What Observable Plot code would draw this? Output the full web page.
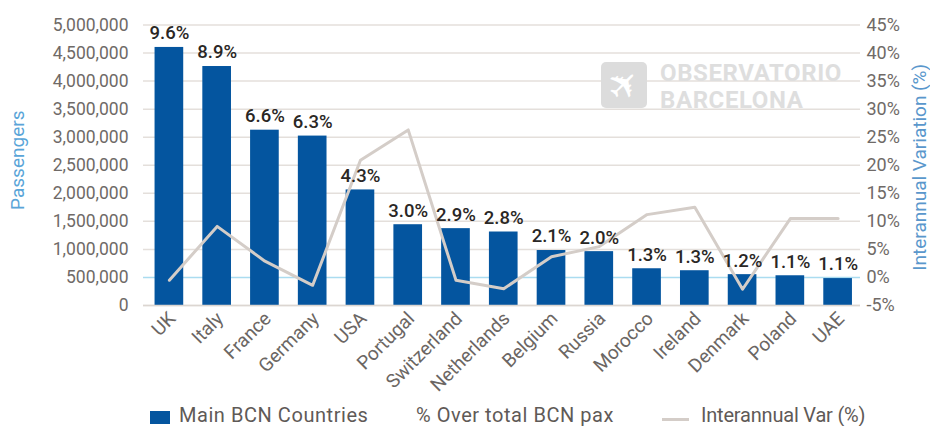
<!DOCTYPE html>
<html>
<head>
<meta charset="utf-8">
<script src="https://cdn.jsdelivr.net/npm/d3@7"></script>
<script src="https://cdn.jsdelivr.net/npm/@observablehq/plot@0.6"></script>
<style>
html,body{margin:0;padding:0;background:#fff;overflow:hidden}
#wrap{position:relative;width:930px;height:426px;font-family:Roboto,sans-serif;overflow:hidden}
#logo{position:absolute;left:601px;top:62px;width:46px;height:46px;border-radius:5px;background:#dcdcdc;color:#fff;font:38px/46px "DejaVu Sans";text-align:center}
#logo span{display:inline-block;transform:rotate(-45deg)}
#brand{position:absolute;left:660px;top:60px;color:#dedede;font:700 24px/27px Roboto,sans-serif;letter-spacing:0.6px}
.lg{position:absolute;top:405px;font-size:20px;line-height:21px;color:#5f5a57;white-space:nowrap}
.sw{position:absolute}
</style>
</head>
<body>
<div id="wrap">
  <div id="chart"></div>
  <div id="logo"><span>✈</span></div>
  <div id="brand">OBSERVATORIO<br>BARCELONA</div>
  <div class="sw" style="left:150px;top:411px;width:20px;height:13px;background:#04559f"></div>
  <div class="lg" style="left:179px;letter-spacing:.55px">Main BCN Countries</div>
  <div class="lg" style="left:416px;letter-spacing:.55px">% Over total BCN pax</div>
  <div class="sw" style="left:662px;top:418px;width:27px;height:3px;background:#d4cdc8"></div>
  <div class="lg" style="left:701px;letter-spacing:-.2px">Interannual Var (%)</div>
</div>
<script>
const countries = ["UK","Italy","France","Germany","USA","Portugal","Switzerland","Netherlands","Belgium","Russia","Morocco","Ireland","Denmark","Poland","UAE"];
const passengers = [4600000,4260000,3125000,3020000,2060000,1440000,1370000,1310000,980000,960000,655000,620000,550000,530000,480000];
const variation = [-0.5,9.1,2.9,-1.4,20.9,26.3,-0.5,-2,3.7,5.5,11.2,12.5,-2.1,10.5,10.5];
const shares = ["9.6%","8.9%","6.6%","6.3%","4.3%","3.0%","2.9%","2.8%","2.1%","2.0%","1.3%","1.3%","1.2%","1.1%","1.1%"];
const passengerTicks = [0,500000,1000000,1500000,2000000,2500000,3000000,3500000,4000000,4500000,5000000];
const variationTicks = [-5,0,5,10,15,20,25,30,35,40,45];

// Secondary axis: -5%..45% is laid over 0..5,000,000
const toLeft = v => (v + 5) * 100000;
const toRight = y => y / 100000 - 5;
const rows = countries.map((c, i) => ({c, pax: passengers[i], v: toLeft(variation[i]), s: shares[i]}));
const grid = passengerTicks.filter(t => t !== toLeft(0));
const ruleInsets = {insetLeft: -2, insetRight: 1.5};

const chart = Plot.plot({
  width: 930, height: 400,
  marginLeft: 145, marginRight: 68.5, marginTop: 24.5, marginBottom: 95,
  style: {fontFamily: "Roboto, sans-serif", background: "transparent", overflow: "visible"},
  x: {domain: countries, paddingInner: 0.4, paddingOuter: 0.2, round: false, label: null},
  y: {domain: [0, 5000000], label: null},
  marks: [
    Plot.ruleY(grid, {stroke: "#e4dfdb", strokeWidth: 1.5, ...ruleInsets}),
    Plot.ruleY([toLeft(0)], {stroke: "#aadcf0", strokeWidth: 1.5, ...ruleInsets}),
    Plot.barY(rows, {x: "c", y: "pax", fill: "#04559f"}),
    Plot.ruleY([0], {stroke: "#dcd6d1", strokeWidth: 1.5, ...ruleInsets}),
    Plot.line(rows, {x: "c", y: "v", stroke: "#d4cdc8", strokeWidth: 3, curve: "linear"}),
    Plot.text(rows, {x: "c", y: "pax", text: "s", dy: -14, fontSize: 18.5, fontWeight: 500, fill: "#2a2725"}),
    Plot.axisX({anchor: "bottom", tickSize: 0, tickPadding: 10, dx: 3, tickRotate: -45, fontSize: 19, color: "#6b6663", label: null}),
    Plot.axisY(passengerTicks, {anchor: "left", tickSize: 0, tickPadding: 17, tickFormat: d3.format(","), fontSize: 17.5, color: "#6f6a67",
      label: null}),
    Plot.axisY(variationTicks.map(toLeft), {anchor: "right", tickSize: 0, tickPadding: 4.5, tickFormat: d => `${Math.round(toRight(d))}%`, fontSize: 18, color: "#6f6a67",
      label: null}),
    Plot.text(["Passengers"], {frameAnchor: "left", textAnchor: "middle", dx: -128, dy: -5, rotate: -90, fontSize: 19, fill: "#5aa5d8"}),
    Plot.text(["Interannual Variation (%)"], {frameAnchor: "right", textAnchor: "middle", dx: 57.5, dy: 2, rotate: -90, fontSize: 19, fill: "#5a97cc"})
  ]
});
document.getElementById("chart").appendChild(chart);
</script>
</body>
</html>
